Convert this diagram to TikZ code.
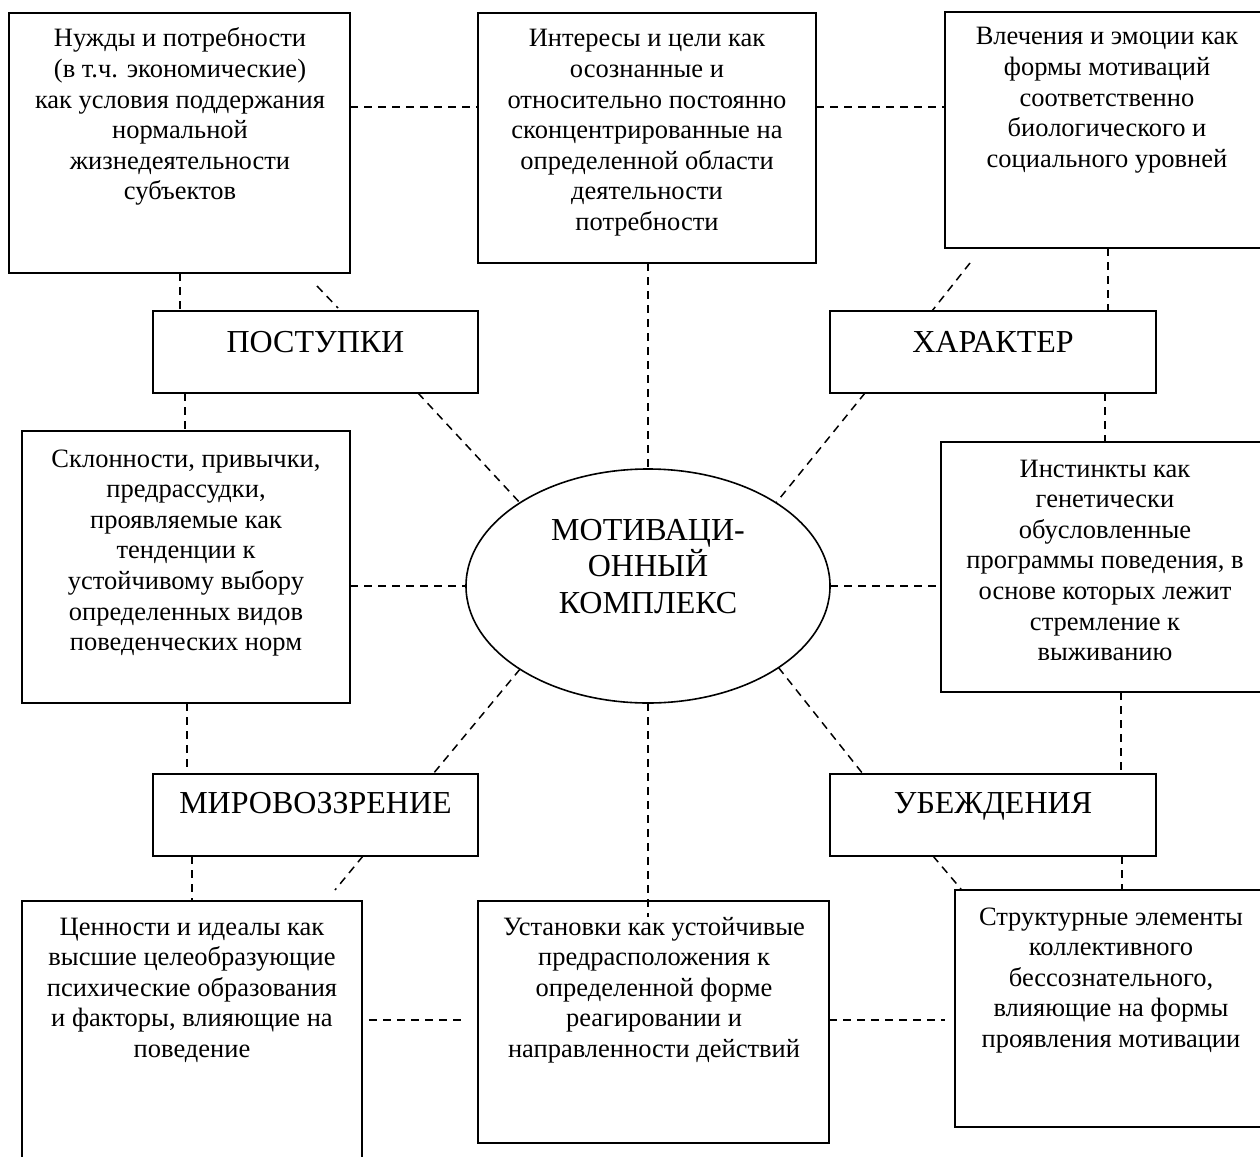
\documentclass[tikz,border=0pt]{standalone}
\usepackage{fontspec}
\setmainfont{Liberation Serif}
\usetikzlibrary{shapes.geometric}

% centred multi-line text whose reference point is the first baseline
\newcommand{\bodytext}[2]{\parbox[t]{#1}{\centering\fontsize{26.5}{30.6}\selectfont #2}}

\tikzset{
  frame/.style={draw, rectangle, line width=1.6pt, inner sep=0pt, outer sep=0pt, anchor=north west},
  link/.style={line width=1.5pt, dash pattern=on 8pt off 6pt},
  txt/.style={inner sep=0pt, outer sep=0pt, anchor=base},
  head/.style={inner sep=0pt, outer sep=0pt, anchor=base, font=\fontsize{32}{36}\selectfont},
}

\begin{document}
\begin{tikzpicture}[x=1pt, y=-1pt]
\useasboundingbox (0,0) rectangle (1260,1156);
\clip (0,0) rectangle (1260,1156);

% ---- frames ----
\node[frame, minimum width=341pt, minimum height=260pt] (b1) at (9,13) {};
\node[frame, minimum width=338pt, minimum height=250pt] (b2) at (478,13) {};
\node[frame, minimum width=323pt, minimum height=236pt] (b3) at (945,12) {};
\node[frame, minimum width=325pt, minimum height=82pt] (hp) at (153,311) {};
\node[frame, minimum width=326pt, minimum height=82pt] (hx) at (830,311) {};
\node[frame, minimum width=328pt, minimum height=272pt] (b4) at (22,431) {};
\node[frame, minimum width=327pt, minimum height=250pt] (b5) at (941,442) {};
\node[frame, minimum width=325pt, minimum height=82pt] (hm) at (153,774) {};
\node[frame, minimum width=326pt, minimum height=82pt] (hu) at (830,774) {};
\node[frame, minimum width=340pt, minimum height=300pt] (b6) at (22,901) {};
\node[frame, minimum width=351pt, minimum height=242pt] (b7) at (478,901) {};
\node[frame, minimum width=313pt, minimum height=237pt] (b8) at (955,890) {};
\node[draw, ellipse, line width=1.6pt, inner sep=0pt, outer sep=0pt,
      minimum width=364pt, minimum height=234pt] (ell) at (648,586) {};

% ---- texts ----
\node[txt] (t1) at (180,47) {\bodytext{336pt}{Нужды и потребности\\(в т.ч. экономические)\\как условия поддержания\\нормальной\\жизнедеятельности\\субъектов}};
\node[txt] (t2) at (647,47) {\bodytext{336pt}{Интересы и цели как\\осознанные и\\относительно постоянно\\сконцентрированные на\\определенной области\\деятельности\\потребности}};
\node[txt] (t3) at (1107,45) {\bodytext{320pt}{Влечения и эмоции как\\формы мотиваций\\соответственно\\биологического и\\социального уровней}};
\node[txt] (t4) at (186,467) {\bodytext{326pt}{Склонности, привычки,\\предрассудки,\\проявляемые как\\тенденции к\\устойчивому выбору\\определенных видов\\поведенческих норм}};
\node[txt] (t5) at (1105,477) {\bodytext{320pt}{Инстинкты как\\генетически\\обусловленные\\программы поведения, в\\основе которых лежит\\стремление к\\выживанию}};
\node[txt] (t6) at (192,935) {\bodytext{336pt}{Ценности и идеалы как\\высшие целеобразующие\\психические образования\\и факторы, влияющие на\\поведение}};
\node[txt] (t7) at (654,935) {\bodytext{346pt}{Установки как устойчивые\\предрасположения к\\определенной форме\\реагировании и\\направленности действий}};
\node[txt] (t8) at (1111,925) {\bodytext{310pt}{Структурные элементы\\коллективного\\бессознательного,\\влияющие на формы\\проявления мотивации}};

\node[head] (lp) at (315.5,352) {ПОСТУПКИ};
\node[head] (lx) at (993,352) {ХАРАКТЕР};
\node[head] (lm) at (315.5,813) {МИРОВОЗЗРЕНИЕ};
\node[head] (lu) at (993,813) {УБЕЖДЕНИЯ};
\node[txt] (le) at (648,540) {\parbox[t]{300pt}{\centering\fontsize{32}{36.5}\selectfont МОТИВАЦИ-\\ОННЫЙ\\КОМПЛЕКС}};

% ---- free ends of the short strokes ----
\coordinate (s1a) at (317,286);
\coordinate (s1b) at (338,308);
\coordinate (s2a) at (970,263);
\coordinate (s3b) at (335,890);
\coordinate (s4b) at (961,889);

% ---- dashed connectors ----
\draw[link] (b1.east |- 0,107) -- (b2.west |- 0,107);
\draw[link] (b2.east |- 0,107) -- (b3.west |- 0,107);
\draw[link] (b1.south -| 180,0) -- (hp.north -| 180,0);
\draw[link] (s1a) -- (s1b);
\draw[link] (hp.south -| 185,0) -- (b4.north -| 185,0);
\draw[link] (hp.south -| 418,0) -- (ell.147);
\draw[link] (b2.south -| ell.north) -- (ell.north);
\draw[link] (hx.south -| 865,0) -- (ell.33);
\draw[link] (s2a) -- (hx.north -| 932,0);
\draw[link] (b3.south -| 1108,0) -- (hx.north -| 1108,0);
\draw[link] (hx.south -| 1105,0) -- (b5.north -| 1105,0);
\draw[link] (b4.east |- ell.west) -- (ell.west);
\draw[link] (ell.east) -- (b5.west |- ell.east);
\draw[link] (ell.213) -- (hm.north -| 433,0);
\draw[link] (b4.south -| 187,0) -- (hm.north -| 187,0);
\draw[link] (hm.south -| 192,0) -- (b6.north -| 192,0);
\draw[link] (hm.south -| 363,0) -- (s3b);
\draw[link, shorten <=7pt, shorten >=15pt] (b6.east |- 0,1020) -- (b7.west |- 0,1020);
\draw[link, shorten >=-16pt] (ell.south) -- (b7.north -| ell.south);
\draw[link, shorten >=10pt] (b7.east |- 0,1020) -- (b8.west |- 0,1020);
\draw[link] (ell.-32) -- (hu.north -| 863,0);
\draw[link] (b5.south -| 1121,0) -- (hu.north -| 1121,0);
\draw[link] (hu.south -| 1122,0) -- (b8.north -| 1122,0);
\draw[link] (hu.south -| 933,0) -- (s4b);
\end{tikzpicture}
\end{document}
